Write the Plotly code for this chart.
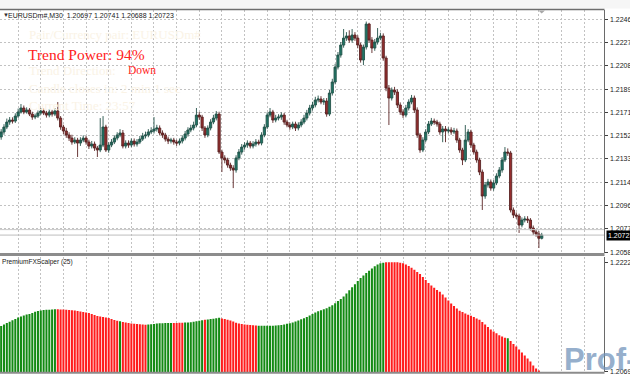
import plotly.graph_objects as go

# ---------------- data (EURUSDm#, M30) ----------------
first_open = 1.21512

close = [
    1.21552, 1.21592, 1.21632, 1.21648, 1.21640, 1.21680, 1.21713, 1.21745, 1.21713, 1.21729,
    1.21696, 1.21672, 1.21680, 1.21704, 1.21721, 1.21704, 1.21688, 1.21713, 1.21696, 1.21721,
    1.21664, 1.21592, 1.21560, 1.21528, 1.21503, 1.21471, 1.21487, 1.21463, 1.21487, 1.21503,
    1.21471, 1.21439, 1.21455, 1.21423, 1.21407, 1.21447, 1.21592, 1.21407, 1.21447, 1.21471,
    1.21503, 1.21528, 1.21544, 1.21439, 1.21463, 1.21447, 1.21479, 1.21455, 1.21471, 1.21495,
    1.21520, 1.21528, 1.21552, 1.21560, 1.21576, 1.21584, 1.21544, 1.21528, 1.21495, 1.21479,
    1.21487, 1.21471, 1.21463, 1.21479, 1.21503, 1.21536, 1.21568, 1.21584, 1.21608, 1.21688,
    1.21672, 1.21584, 1.21528, 1.21584, 1.21632, 1.21664, 1.21696, 1.21391, 1.21343, 1.21327,
    1.21286, 1.21262, 1.21246, 1.21343, 1.21391, 1.21431, 1.21447, 1.21463, 1.21439, 1.21455,
    1.21471, 1.21463, 1.21528, 1.21592, 1.21688, 1.21713, 1.21648, 1.21664, 1.21672, 1.21688,
    1.21632, 1.21608, 1.21592, 1.21616, 1.21584, 1.21608, 1.21632, 1.21664, 1.21704, 1.21745,
    1.21769, 1.21809, 1.21817, 1.21793, 1.21801, 1.21696, 1.21865, 1.21954, 1.22074, 1.22171,
    1.22251, 1.22307, 1.22324, 1.22291, 1.22332, 1.22307, 1.22251, 1.22131, 1.22235, 1.22420,
    1.22291, 1.22227, 1.22275, 1.22307, 1.22324, 1.22147, 1.21905, 1.21825, 1.21889, 1.21873,
    1.21769, 1.21713, 1.21688, 1.21745, 1.21793, 1.21825, 1.21729, 1.21528, 1.21407, 1.21487,
    1.21552, 1.21616, 1.21640, 1.21632, 1.21616, 1.21552, 1.21576, 1.21560, 1.21568, 1.21552,
    1.21560, 1.21487, 1.21407, 1.21327, 1.21487, 1.21552, 1.21447, 1.21391, 1.21327, 1.21230,
    1.21037, 1.21126, 1.21150, 1.21101, 1.21142, 1.21198, 1.21246, 1.21327, 1.21391, 1.21383,
    1.20925, 1.20884, 1.20876, 1.20804, 1.20844, 1.20852, 1.20844, 1.20780, 1.20748, 1.20732,
    1.20697, 1.20723,
]

high = [
    1.21575, 1.21615, 1.21660, 1.21672, 1.21670, 1.21702, 1.21740, 1.21777, 1.21765, 1.21750,
    1.21745, 1.21715, 1.21700, 1.21725, 1.21745, 1.21740, 1.21722, 1.21735, 1.21730, 1.21745,
    1.21793, 1.21680, 1.21610, 1.21585, 1.21550, 1.21530, 1.21510, 1.21505, 1.21510, 1.21525,
    1.21520, 1.21490, 1.21480, 1.21475, 1.21440, 1.21664, 1.21680, 1.21610, 1.21470, 1.21495,
    1.21525, 1.21550, 1.21575, 1.21568, 1.21485, 1.21485, 1.21500, 1.21500, 1.21495, 1.21520,
    1.21545, 1.21555, 1.21575, 1.21590, 1.21672, 1.21610, 1.21605, 1.21565, 1.21545, 1.21515,
    1.21505, 1.21505, 1.21490, 1.21500, 1.21525, 1.21560, 1.21590, 1.21610, 1.21635, 1.21745,
    1.21713, 1.21690, 1.21600, 1.21605, 1.21655, 1.21690, 1.21721, 1.21715, 1.21410, 1.21365,
    1.21345, 1.21305, 1.21285, 1.21365, 1.21415, 1.21455, 1.21470, 1.21485, 1.21480, 1.21478,
    1.21495, 1.21490, 1.21550, 1.21615, 1.21710, 1.21745, 1.21730, 1.21690, 1.21695, 1.21710,
    1.21705, 1.21650, 1.21630, 1.21635, 1.21635, 1.21630, 1.21655, 1.21690, 1.21730, 1.21770,
    1.21795, 1.21835, 1.21845, 1.21840, 1.21825, 1.21825, 1.21890, 1.21980, 1.22100, 1.22195,
    1.22275, 1.22380, 1.22355, 1.22370, 1.22380, 1.22355, 1.22330, 1.22270, 1.22255, 1.22440,
    1.22430, 1.22315, 1.22300, 1.22388, 1.22350, 1.22345, 1.22165, 1.21930, 1.21910, 1.21915,
    1.21895, 1.21790, 1.21735, 1.21770, 1.21815, 1.21850, 1.21845, 1.21750, 1.21545, 1.21510,
    1.21575, 1.21640, 1.21665, 1.21660, 1.21650, 1.21635, 1.21600, 1.21600, 1.21590, 1.21590,
    1.21585, 1.21580, 1.21505, 1.21425, 1.21608, 1.21575, 1.21570, 1.21465, 1.21410, 1.21345,
    1.21250, 1.21150, 1.21175, 1.21170, 1.21165, 1.21220, 1.21270, 1.21350, 1.21431, 1.21420,
    1.21400, 1.20945, 1.20905, 1.20895, 1.20865, 1.20875, 1.20875, 1.20860, 1.20800, 1.20770,
    1.20755, 1.20741,
]

low = [
    1.21490, 1.21530, 1.21575, 1.21610, 1.21620, 1.21625, 1.21665, 1.21700, 1.21695, 1.21700,
    1.21680, 1.21650, 1.21655, 1.21665, 1.21690, 1.21688, 1.21668, 1.21670, 1.21676, 1.21680,
    1.21645, 1.21570, 1.21535, 1.21505, 1.21480, 1.21450, 1.21455, 1.21351, 1.21440, 1.21470,
    1.21450, 1.21415, 1.21420, 1.21400, 1.21351, 1.21390, 1.21430, 1.21391, 1.21385, 1.21430,
    1.21455, 1.21485, 1.21510, 1.21420, 1.21420, 1.21425, 1.21430, 1.21435, 1.21435, 1.21455,
    1.21480, 1.21500, 1.21510, 1.21535, 1.21540, 1.21555, 1.21525, 1.21505, 1.21475, 1.21455,
    1.21460, 1.21450, 1.21440, 1.21445, 1.21460, 1.21485, 1.21515, 1.21550, 1.21565, 1.21590,
    1.21650, 1.21560, 1.21505, 1.21510, 1.21565, 1.21615, 1.21645, 1.21375, 1.21230, 1.21300,
    1.21265, 1.21240, 1.21101, 1.21225, 1.21325, 1.21370, 1.21410, 1.21425, 1.21420, 1.21420,
    1.21435, 1.21445, 1.21445, 1.21510, 1.21575, 1.21670, 1.21625, 1.21630, 1.21645, 1.21650,
    1.21610, 1.21590, 1.21570, 1.21575, 1.21560, 1.21565, 1.21590, 1.21615, 1.21645, 1.21685,
    1.21725, 1.21750, 1.21790, 1.21775, 1.21770, 1.21675, 1.21680, 1.21845, 1.21935, 1.22055,
    1.22150, 1.22230, 1.22285, 1.22270, 1.22270, 1.22285, 1.22225, 1.22110, 1.22090, 1.22215,
    1.22270, 1.22187, 1.22205, 1.22255, 1.22290, 1.22125, 1.21880, 1.21608, 1.21805, 1.21850,
    1.21745, 1.21690, 1.21665, 1.21670, 1.21725, 1.21775, 1.21705, 1.21505, 1.21385, 1.21390,
    1.21470, 1.21535, 1.21600, 1.21610, 1.21595, 1.21530, 1.21470, 1.21470, 1.21540, 1.21530,
    1.21535, 1.21465, 1.21385, 1.21286, 1.21310, 1.21470, 1.21425, 1.21370, 1.21305, 1.21205,
    1.20925, 1.21015, 1.21105, 1.21080, 1.21080, 1.21125, 1.21180, 1.21225, 1.21310, 1.21360,
    1.20905, 1.20860, 1.20855, 1.20740, 1.20785, 1.20825, 1.20820, 1.20760, 1.20725, 1.20710,
    1.20619, 1.20688,
]

# PremiumFXScalper (25) histogram values and colour signal (G = up, R = down)
scalper = [
    1.21328, 1.21349, 1.21370, 1.21388, 1.21407, 1.21426, 1.21447, 1.21461, 1.21475, 1.21489,
    1.21496, 1.21510, 1.21527, 1.21538, 1.21545, 1.21552, 1.21555, 1.21556, 1.21559, 1.21562,
    1.21562, 1.21560, 1.21557, 1.21555, 1.21552, 1.21548, 1.21543, 1.21538, 1.21531, 1.21524,
    1.21517, 1.21510, 1.21496, 1.21482, 1.21468, 1.21461, 1.21454, 1.21447, 1.21440, 1.21426,
    1.21412, 1.21400, 1.21393, 1.21384, 1.21377, 1.21370, 1.21363, 1.21358, 1.21356, 1.21351,
    1.21349, 1.21346, 1.21349, 1.21353, 1.21356, 1.21361, 1.21365, 1.21367, 1.21368, 1.21370,
    1.21370, 1.21370, 1.21371, 1.21372, 1.21374, 1.21375, 1.21378, 1.21381, 1.21386, 1.21393,
    1.21402, 1.21409, 1.21414, 1.21420, 1.21424, 1.21428, 1.21435, 1.21442, 1.21434, 1.21426,
    1.21416, 1.21405, 1.21391, 1.21372, 1.21363, 1.21356, 1.21349, 1.21344, 1.21342, 1.21337,
    1.21335, 1.21332, 1.21332, 1.21332, 1.21332, 1.21332, 1.21332, 1.21333, 1.21337, 1.21342,
    1.21349, 1.21358, 1.21367, 1.21375, 1.21389, 1.21405, 1.21421, 1.21435, 1.21454, 1.21475,
    1.21496, 1.21517, 1.21535, 1.21549, 1.21563, 1.21577, 1.21597, 1.21619, 1.21646, 1.21678,
    1.21706, 1.21741, 1.21783, 1.21828, 1.21870, 1.21913, 1.21958, 1.22000, 1.22035, 1.22070,
    1.22101, 1.22133, 1.22164, 1.22189, 1.22206, 1.22213, 1.22220, 1.22220, 1.22220, 1.22220,
    1.22219, 1.22213, 1.22206, 1.22189, 1.22168, 1.22143, 1.22115, 1.22084, 1.22056, 1.22014,
    1.21972, 1.21930, 1.21895, 1.21863, 1.21832, 1.21808, 1.21769, 1.21727, 1.21685, 1.21643,
    1.21608, 1.21573, 1.21542, 1.21524, 1.21503, 1.21486, 1.21472, 1.21454, 1.21433, 1.21414,
    1.21384, 1.21349, 1.21314, 1.21279, 1.21251, 1.21225, 1.21199, 1.21180, 1.21162, 1.21155,
    1.21117, 1.21075, 1.21040, 1.20998, 1.20956, 1.20914, 1.20872, 1.20830, 1.20774, 1.20732,
    1.20704, None,
]

signal = (
    "GGGGGGGGGG" "GGGGGGGGGG" "RRRRRRRRRR" "RRRRRRRRRR" "RRGRRRRRRR"
    "RRGGGGGGGG" "GRRRRGGGGG" "GGRGGGGGRR" "RRRRRRRRRR" "RGGGGGGGGG"
    "GGGGGGGGGG" "GGGGGGGGGG" "GGGGGGGGGG" "GGGGGGRRRR" "RRRRRRRRRR"
    "RRRRRRRRRR" "RRRRRRRRRR" "RRRRRRRRRG" "RRRRRRRRRR" "RR"
)

price_ticks = [1.22460, 1.222725, 1.22085, 1.218975, 1.21710, 1.215225,
               1.21335, 1.211475, 1.20960, 1.207725, 1.20585]
price_labels = ["1.22460", "1.22270", "1.22085", "1.21895", "1.21710", "1.21520",
                "1.21335", "1.21145", "1.20960", "1.20775", "1.20585"]
ind_ticks = [1.2222, 1.20697]
ind_labels = ["1.2222", "1.20697"]

bid = 1.20723
ask = 1.20767
header = "EURUSDm#,M30  1.20697 1.20741 1.20688 1.20723"

# ---------------- figure ----------------
W, H = 630, 380
def fx(x):
    return x / W
def fy(y):
    return 1 - y / H

n = len(close)
idx = list(range(n))
opens = [first_open] + close[:-1]

fig = go.Figure()
fig.add_trace(go.Candlestick(
    x=idx, open=opens, high=high, low=low, close=close,
    increasing=dict(line=dict(color="#24524a", width=0.9), fillcolor="#1f7565"),
    decreasing=dict(line=dict(color="#5a2424", width=0.9), fillcolor="#952e2e"),
    whiskerwidth=0, xaxis="x", yaxis="y", showlegend=False, hoverinfo="skip",
))

bar_colors = ["#138a13" if s == "G" else "#ff1c1c" for s in signal]
fig.add_trace(go.Bar(
    x=idx, y=scalper, marker=dict(color=bar_colors, line=dict(width=0)),
    width=0.72, xaxis="x2", yaxis="y2", showlegend=False, hoverinfo="skip",
))

grid_x = list(range(6, 213, 8))
grid_col = "#c2c2c2"
sans = "Liberation Sans, Arial, sans-serif"

fig.update_layout(
    width=W, height=H, margin=dict(l=0, r=0, t=0, b=0),
    paper_bgcolor="white", plot_bgcolor="white", showlegend=False,
    boxgap=0.22, boxgroupgap=0, hovermode=False,
    xaxis=dict(domain=[0, fx(604)], range=[-0.41, 213.0], anchor="y",
               tickvals=grid_x, showticklabels=False, ticks="",
               showgrid=True, gridcolor=grid_col, griddash="2px,2px", gridwidth=1,
               zeroline=False, showline=False, rangeslider=dict(visible=False)),
    xaxis2=dict(domain=[0, fx(604)], range=[-0.41, 213.0], anchor="y2", matches="x",
                tickvals=grid_x, showticklabels=False, ticks="",
                showgrid=True, gridcolor=grid_col, griddash="2px,2px", gridwidth=1,
                zeroline=False, showline=False),
    yaxis=dict(domain=[fy(253), fy(10)], range=[1.20579, 1.22533], anchor="x",
               side="right", tickvals=price_ticks, showticklabels=False,
               showgrid=True, gridcolor=grid_col, griddash="2px,2px", gridwidth=1,
               ticks="outside", ticklen=3, tickcolor="#404040",
               showline=True, linecolor="#6a6a6a", linewidth=1, zeroline=False),
    yaxis2=dict(domain=[fy(372), fy(257)], range=[1.20683, 1.22294], anchor="x2",
                side="right", tickvals=ind_ticks, showticklabels=False,
                showgrid=False, ticks="outside", ticklen=3, tickcolor="#404040",
                showline=True, linecolor="#6a6a6a", linewidth=1, zeroline=False),
)

shapes = [
    dict(type="rect", xref="paper", yref="paper", x0=0, x1=1, y0=fy(8.5), y1=1,
         fillcolor="#f6f6f6", line=dict(width=0), layer="below"),
    dict(type="line", xref="paper", yref="paper", x0=0, x1=fx(604.5), y0=fy(9.5), y1=fy(9.5),
         line=dict(color="#6e6e6e", width=1.5)),
    dict(type="rect", xref="paper", yref="paper", x0=0, x1=fx(604.5), y0=fy(256), y1=fy(253),
         fillcolor="#8c8c8c", line=dict(width=0)),
    dict(type="line", xref="paper", yref="paper", x0=0, x1=fx(604.5), y0=fy(372.8), y1=fy(372.8),
         line=dict(color="#8c8c8c", width=2)),
    dict(type="line", xref="x", yref="y", x0=-0.41, x1=213.0, y0=ask, y1=ask,
         line=dict(color="#c8c8c8", width=1)),
    dict(type="line", xref="x", yref="y", x0=-0.41, x1=213.0, y0=bid, y1=bid,
         line=dict(color="#bdbdbd", width=1)),
    dict(type="path", xref="paper", yref="paper",
         path=f"M {fx(538.5)} {fy(10.5)} L {fx(545)} {fy(10.5)} L {fx(541.7)} {fy(13.5)} Z",
         fillcolor="#a8a8a8", line=dict(width=0)),
]
fig.update_layout(shapes=shapes)

serif = "Liberation Serif, Times New Roman, serif"
faint = "#faf3e6"
ann = [
    dict(text="▼", x=fx(1), y=fy(15.5), xanchor="left", yanchor="middle",
         font=dict(family=sans, size=6, color="#303030")),
    dict(text=header, x=fx(6), y=fy(15.5), xanchor="left", yanchor="middle",
         font=dict(family=sans, size=7, color="#202020")),
    dict(text="Pair/Currency pair: EURUSDm#", x=fx(27), y=fy(35), xanchor="left", yanchor="middle",
         font=dict(family=serif, size=13, color=faint)),
    dict(text="Trend Direction:", x=fx(27), y=fy(70), xanchor="left", yanchor="middle",
         font=dict(family=serif, size=13, color=faint)),
    dict(text="Candle closes in: 2 min 1 sec", x=fx(27), y=fy(88), xanchor="left", yanchor="middle",
         font=dict(family=serif, size=13, color=faint)),
    dict(text="Current Time: 23:57", x=fx(27), y=fy(106), xanchor="left", yanchor="middle",
         font=dict(family=serif, size=13, color=faint)),
    dict(text="Trend Power: 94%", x=fx(26), y=fy(54), xanchor="left", yanchor="middle",
         font=dict(family=serif, size=15.5, color="#ff2222")),
    dict(text="Down", x=fx(126), y=fy(70.5), xanchor="left", yanchor="middle",
         font=dict(family=serif, size=11.5, color="#ff2222")),
    dict(text="PremiumFXScalper (25)", x=fx(0), y=fy(262), xanchor="left", yanchor="middle",
         font=dict(family=sans, size=6.6, color="#202020")),
]
for v, t in zip(price_ticks, price_labels):
    ann.append(dict(text=t, x=fx(607.5), y=v, yref="y", xanchor="left", yanchor="middle",
                    font=dict(family=sans, size=7, color="#202020")))
for v, t in zip(ind_ticks, ind_labels):
    ann.append(dict(text=t, x=fx(607.5), y=v, yref="y2", xanchor="left", yanchor="middle",
                    font=dict(family=sans, size=7, color="#202020")))
ann += [
    dict(text=f"{bid:.5f}", x=fx(605.5), y=bid, yref="y", xanchor="left",
         yanchor="middle", bgcolor="#000000", borderpad=1,
         font=dict(family=sans, size=7, color="#ffffff")),
    dict(text="<b>Prof-FX</b>", x=fx(562), y=fy(340), xanchor="left", yanchor="top",
         font=dict(family=sans, size=31, color="rgba(110,145,185,0.72)")),
]
for a in ann:
    a.setdefault("xref", "paper")
    a.setdefault("yref", "paper")
    a["showarrow"] = False
fig.update_layout(annotations=ann)

fig.write_html(
    "out.html",
    config={"displayModeBar": False, "staticPlot": True},
    post_script="document.body.style.margin='0';document.body.style.overflow='hidden';",
)
